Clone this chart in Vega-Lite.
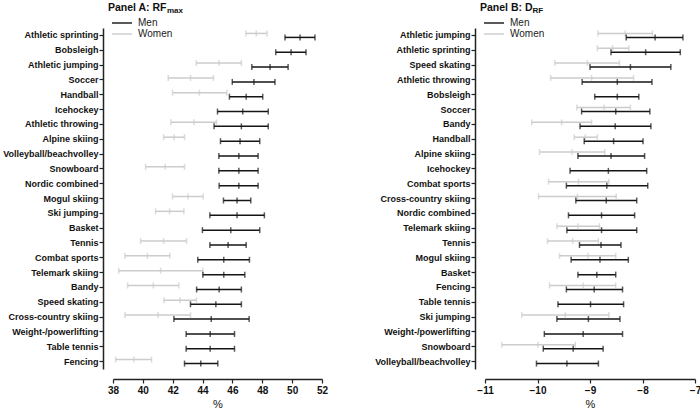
{
  "$schema": "https://vega.github.io/schema/vega-lite/v6.json",
  "background": "white",
  "padding": {"left": 2, "right": 0, "top": 2, "bottom": 0},
  "spacing": 46,
  "config": {
    "font": "Liberation Sans",
    "view": {"stroke": null},
    "axis": {"grid": false, "domainColor": "#222222", "tickColor": "#222222", "labelColor": "#111111", "labelFontWeight": "bold", "domainWidth": 1.5, "tickWidth": 1.2},
    "tick": {"thickness": 1.5},
    "title": {"anchor": "start", "frame": "group", "fontWeight": "bold", "color": "#111111"},
    "legend": {"symbolType": "M-2,0H2", "symbolSize": 100, "symbolStrokeWidth": 2, "labelFontSize": 10, "labelColor": "#222222", "labelOffset": 10, "rowPadding": -1, "padding": 0, "title": null}
  },
  "resolve": {"scale": {"color": "independent", "x": "independent", "y": "independent", "yOffset": "independent"}, "legend": {"color": "independent"}},
  "datasets": {
    "rf": [
      {"sport": "Athletic sprinting", "sex": "Women", "lo": 46.9, "mean": 47.6, "hi": 48.32},
      {"sport": "Athletic sprinting", "sex": "Men", "lo": 49.52, "mean": 50.53, "hi": 51.53},
      {"sport": "Bobsleigh", "sex": "Men", "lo": 48.9, "mean": 49.93, "hi": 50.93},
      {"sport": "Athletic jumping", "sex": "Women", "lo": 43.58, "mean": 45.1, "hi": 46.6},
      {"sport": "Athletic jumping", "sex": "Men", "lo": 47.3, "mean": 48.52, "hi": 49.73},
      {"sport": "Soccer", "sex": "Women", "lo": 41.7, "mean": 43.19, "hi": 44.73},
      {"sport": "Soccer", "sex": "Men", "lo": 45.99, "mean": 47.44, "hi": 48.85},
      {"sport": "Handball", "sex": "Women", "lo": 41.99, "mean": 43.79, "hi": 45.62},
      {"sport": "Handball", "sex": "Men", "lo": 45.8, "mean": 46.92, "hi": 48.03},
      {"sport": "Icehockey", "sex": "Men", "lo": 45.0, "mean": 46.69, "hi": 48.4},
      {"sport": "Athletic throwing", "sex": "Women", "lo": 41.88, "mean": 43.42, "hi": 44.93},
      {"sport": "Athletic throwing", "sex": "Men", "lo": 44.77, "mean": 46.6, "hi": 48.4},
      {"sport": "Alpine skiing", "sex": "Women", "lo": 41.39, "mean": 42.1, "hi": 42.79},
      {"sport": "Alpine skiing", "sex": "Men", "lo": 45.2, "mean": 46.51, "hi": 47.83},
      {"sport": "Volleyball/beachvolley", "sex": "Men", "lo": 45.09, "mean": 46.43, "hi": 47.72},
      {"sport": "Snowboard", "sex": "Women", "lo": 40.18, "mean": 41.5, "hi": 42.79},
      {"sport": "Snowboard", "sex": "Men", "lo": 45.09, "mean": 46.43, "hi": 47.72},
      {"sport": "Nordic combined", "sex": "Men", "lo": 45.11, "mean": 46.43, "hi": 47.72},
      {"sport": "Mogul skiing", "sex": "Women", "lo": 41.99, "mean": 43.02, "hi": 44.04},
      {"sport": "Mogul skiing", "sex": "Men", "lo": 45.4, "mean": 46.31, "hi": 47.23},
      {"sport": "Ski jumping", "sex": "Women", "lo": 40.85, "mean": 41.79, "hi": 42.75},
      {"sport": "Ski jumping", "sex": "Men", "lo": 44.49, "mean": 46.31, "hi": 48.14},
      {"sport": "Basket", "sex": "Men", "lo": 43.99, "mean": 45.89, "hi": 47.83},
      {"sport": "Tennis", "sex": "Women", "lo": 39.85, "mean": 41.39, "hi": 42.93},
      {"sport": "Tennis", "sex": "Men", "lo": 44.49, "mean": 45.71, "hi": 46.92},
      {"sport": "Combat sports", "sex": "Women", "lo": 38.8, "mean": 40.3, "hi": 41.81},
      {"sport": "Combat sports", "sex": "Men", "lo": 43.68, "mean": 45.42, "hi": 47.14},
      {"sport": "Telemark skiing", "sex": "Women", "lo": 38.38, "mean": 41.19, "hi": 44.02},
      {"sport": "Telemark skiing", "sex": "Men", "lo": 44.02, "mean": 45.42, "hi": 46.83},
      {"sport": "Bandy", "sex": "Women", "lo": 38.98, "mean": 40.7, "hi": 42.41},
      {"sport": "Bandy", "sex": "Men", "lo": 43.6, "mean": 45.11, "hi": 46.6},
      {"sport": "Speed skating", "sex": "Women", "lo": 41.41, "mean": 42.48, "hi": 43.59},
      {"sport": "Speed skating", "sex": "Men", "lo": 43.19, "mean": 44.89, "hi": 46.6},
      {"sport": "Cross-country skiing", "sex": "Women", "lo": 38.8, "mean": 41.01, "hi": 43.19},
      {"sport": "Cross-country skiing", "sex": "Men", "lo": 42.08, "mean": 44.58, "hi": 47.12},
      {"sport": "Weight-/powerlifting", "sex": "Men", "lo": 42.9, "mean": 44.51, "hi": 46.14},
      {"sport": "Table tennis", "sex": "Men", "lo": 42.9, "mean": 44.51, "hi": 46.14},
      {"sport": "Fencing", "sex": "Women", "lo": 38.18, "mean": 39.4, "hi": 40.58},
      {"sport": "Fencing", "sex": "Men", "lo": 42.79, "mean": 43.88, "hi": 45.02}
    ],
    "drf": [
      {"sport": "Athletic jumping", "sex": "Women", "lo": -8.85, "mean": -8.33, "hi": -7.81},
      {"sport": "Athletic jumping", "sex": "Men", "lo": -8.31, "mean": -7.76, "hi": -7.23},
      {"sport": "Athletic sprinting", "sex": "Women", "lo": -8.86, "mean": -8.57, "hi": -8.26},
      {"sport": "Athletic sprinting", "sex": "Men", "lo": -8.6, "mean": -7.94, "hi": -7.28},
      {"sport": "Speed skating", "sex": "Women", "lo": -9.67, "mean": -9.05, "hi": -8.44},
      {"sport": "Speed skating", "sex": "Men", "lo": -9.0, "mean": -8.23, "hi": -7.46},
      {"sport": "Athletic throwing", "sex": "Women", "lo": -9.75, "mean": -8.97, "hi": -8.17},
      {"sport": "Athletic throwing", "sex": "Men", "lo": -9.15, "mean": -8.48, "hi": -7.82},
      {"sport": "Bobsleigh", "sex": "Men", "lo": -8.91, "mean": -8.48, "hi": -8.07},
      {"sport": "Soccer", "sex": "Women", "lo": -9.25, "mean": -8.73, "hi": -8.23},
      {"sport": "Soccer", "sex": "Men", "lo": -9.16, "mean": -8.51, "hi": -7.86},
      {"sport": "Bandy", "sex": "Women", "lo": -10.11, "mean": -9.54, "hi": -8.97},
      {"sport": "Bandy", "sex": "Men", "lo": -9.19, "mean": -8.52, "hi": -7.84},
      {"sport": "Handball", "sex": "Women", "lo": -9.3, "mean": -9.09, "hi": -8.86},
      {"sport": "Handball", "sex": "Men", "lo": -9.11, "mean": -8.55, "hi": -7.99},
      {"sport": "Alpine skiing", "sex": "Women", "lo": -9.96, "mean": -9.34, "hi": -8.72},
      {"sport": "Alpine skiing", "sex": "Men", "lo": -9.23, "mean": -8.6, "hi": -7.96},
      {"sport": "Icehockey", "sex": "Men", "lo": -9.38, "mean": -8.65, "hi": -7.92},
      {"sport": "Combat sports", "sex": "Women", "lo": -9.79, "mean": -9.22, "hi": -8.64},
      {"sport": "Combat sports", "sex": "Men", "lo": -9.45, "mean": -8.68, "hi": -7.9},
      {"sport": "Cross-country skiing", "sex": "Women", "lo": -9.98, "mean": -9.24, "hi": -8.5},
      {"sport": "Cross-country skiing", "sex": "Men", "lo": -9.27, "mean": -8.69, "hi": -8.11},
      {"sport": "Nordic combined", "sex": "Men", "lo": -9.41, "mean": -8.78, "hi": -8.15},
      {"sport": "Telemark skiing", "sex": "Women", "lo": -9.63, "mean": -9.23, "hi": -8.82},
      {"sport": "Telemark skiing", "sex": "Men", "lo": -9.44, "mean": -8.78, "hi": -8.11},
      {"sport": "Tennis", "sex": "Women", "lo": -9.81, "mean": -9.33, "hi": -8.84},
      {"sport": "Tennis", "sex": "Men", "lo": -9.2, "mean": -8.79, "hi": -8.41},
      {"sport": "Mogul skiing", "sex": "Women", "lo": -9.58, "mean": -9.04, "hi": -8.51},
      {"sport": "Mogul skiing", "sex": "Men", "lo": -9.36, "mean": -8.81, "hi": -8.27},
      {"sport": "Basket", "sex": "Men", "lo": -9.23, "mean": -8.87, "hi": -8.51},
      {"sport": "Fencing", "sex": "Women", "lo": -9.77, "mean": -9.13, "hi": -8.51},
      {"sport": "Fencing", "sex": "Men", "lo": -9.45, "mean": -8.92, "hi": -8.38},
      {"sport": "Table tennis", "sex": "Men", "lo": -9.61, "mean": -8.99, "hi": -8.36},
      {"sport": "Ski jumping", "sex": "Women", "lo": -10.3, "mean": -9.47, "hi": -8.64},
      {"sport": "Ski jumping", "sex": "Men", "lo": -9.63, "mean": -9.03, "hi": -8.43},
      {"sport": "Weight-/powerlifting", "sex": "Men", "lo": -9.87, "mean": -9.13, "hi": -8.38},
      {"sport": "Snowboard", "sex": "Women", "lo": -10.68, "mean": -9.99, "hi": -9.28},
      {"sport": "Snowboard", "sex": "Men", "lo": -9.89, "mean": -9.32, "hi": -8.75},
      {"sport": "Volleyball/beachvolley", "sex": "Men", "lo": -10.02, "mean": -9.44, "hi": -8.84}
    ]
  },
  "hconcat": [
    {
      "title": {"text": "Panel A: RF", "dx": -5, "offset": -6, "fontSize": 10.5},
      "bounds": "flush",
      "vconcat": [
        {
          "width": 209,
          "height": 341,
          "data": {"name": "rf"},
          "title": {"text": "max", "dx": 54, "offset": 13, "fontSize": 8},
          "encoding": {
            "x": {"field": "lo", "type": "quantitative", "scale": {"domain": [38, 52], "nice": false, "zero": false}, "axis": {"title": "%", "offset": 10, "values": [38, 40, 42, 44, 46, 48, 50, 52], "format": "d", "labelOverlap": false, "labelSeparation": 0, "labelFlush": false, "tickSize": 4, "labelPadding": 2, "labelFontSize": 10, "titleFontWeight": "normal", "titleFontSize": 11, "titleColor": "#111111", "titlePadding": 3}},
            "y": {"field": "sport", "type": "nominal", "sort": ["Athletic sprinting","Bobsleigh","Athletic jumping","Soccer","Handball","Icehockey","Athletic throwing","Alpine skiing","Volleyball/beachvolley","Snowboard","Nordic combined","Mogul skiing","Ski jumping","Basket","Tennis","Combat sports","Telemark skiing","Bandy","Speed skating","Cross-country skiing","Weight-/powerlifting","Table tennis","Fencing"], "scale": {"paddingInner": 0, "paddingOuter": 0}, "axis": {"title": null, "offset": 10, "tickSize": 4, "labelPadding": 1, "labelFontSize": 9, "labelLimit": 200}},
            "yOffset": {"field": "sex", "type": "nominal", "sort": ["Women", "Men"], "scale": {"paddingInner": 0, "paddingOuter": 0.855}},
            "color": {"field": "sex", "type": "nominal", "scale": {"domain": ["Men", "Women"], "range": ["#151515", "#cccccc"]}, "legend": {"orient": "none", "legendX": 3, "legendY": -11}}
          },
          "layer": [
            {"mark": {"type": "rule", "strokeWidth": 1.5}, "encoding": {"x2": {"field": "hi"}}},
            {"transform": [{"fold": ["lo", "mean", "hi"], "as": ["stat", "lo"]}], "mark": {"type": "tick", "size": 6}}
          ]
        }
      ]
    },
    {
      "title": {"text": "Panel B: D", "dx": -5, "offset": -6, "fontSize": 10.5},
      "bounds": "flush",
      "vconcat": [
        {
          "width": 210,
          "height": 341,
          "data": {"name": "drf"},
          "title": {"text": "RF", "dx": 47.5, "offset": 13, "fontSize": 8},
          "encoding": {
            "x": {"field": "lo", "type": "quantitative", "scale": {"domain": [-11, -7], "nice": false, "zero": false}, "axis": {"title": "%", "offset": 10, "values": [-11, -10, -9, -8, -7], "format": "d", "labelOverlap": false, "labelSeparation": 0, "labelFlush": false, "tickSize": 4, "labelPadding": 2, "labelFontSize": 10, "titleFontWeight": "normal", "titleFontSize": 11, "titleColor": "#111111", "titlePadding": 3}},
            "y": {"field": "sport", "type": "nominal", "sort": ["Athletic jumping","Athletic sprinting","Speed skating","Athletic throwing","Bobsleigh","Soccer","Bandy","Handball","Alpine skiing","Icehockey","Combat sports","Cross-country skiing","Nordic combined","Telemark skiing","Tennis","Mogul skiing","Basket","Fencing","Table tennis","Ski jumping","Weight-/powerlifting","Snowboard","Volleyball/beachvolley"], "scale": {"paddingInner": 0, "paddingOuter": 0}, "axis": {"title": null, "offset": 10, "tickSize": 4, "labelPadding": 1, "labelFontSize": 9, "labelLimit": 200}},
            "yOffset": {"field": "sex", "type": "nominal", "sort": ["Women", "Men"], "scale": {"paddingInner": 0, "paddingOuter": 0.855}},
            "color": {"field": "sex", "type": "nominal", "scale": {"domain": ["Men", "Women"], "range": ["#151515", "#cccccc"]}, "legend": {"orient": "none", "legendX": 3, "legendY": -11}}
          },
          "layer": [
            {"mark": {"type": "rule", "strokeWidth": 1.5}, "encoding": {"x2": {"field": "hi"}}},
            {"transform": [{"fold": ["lo", "mean", "hi"], "as": ["stat", "lo"]}], "mark": {"type": "tick", "size": 6}}
          ]
        }
      ]
    }
  ]
}
